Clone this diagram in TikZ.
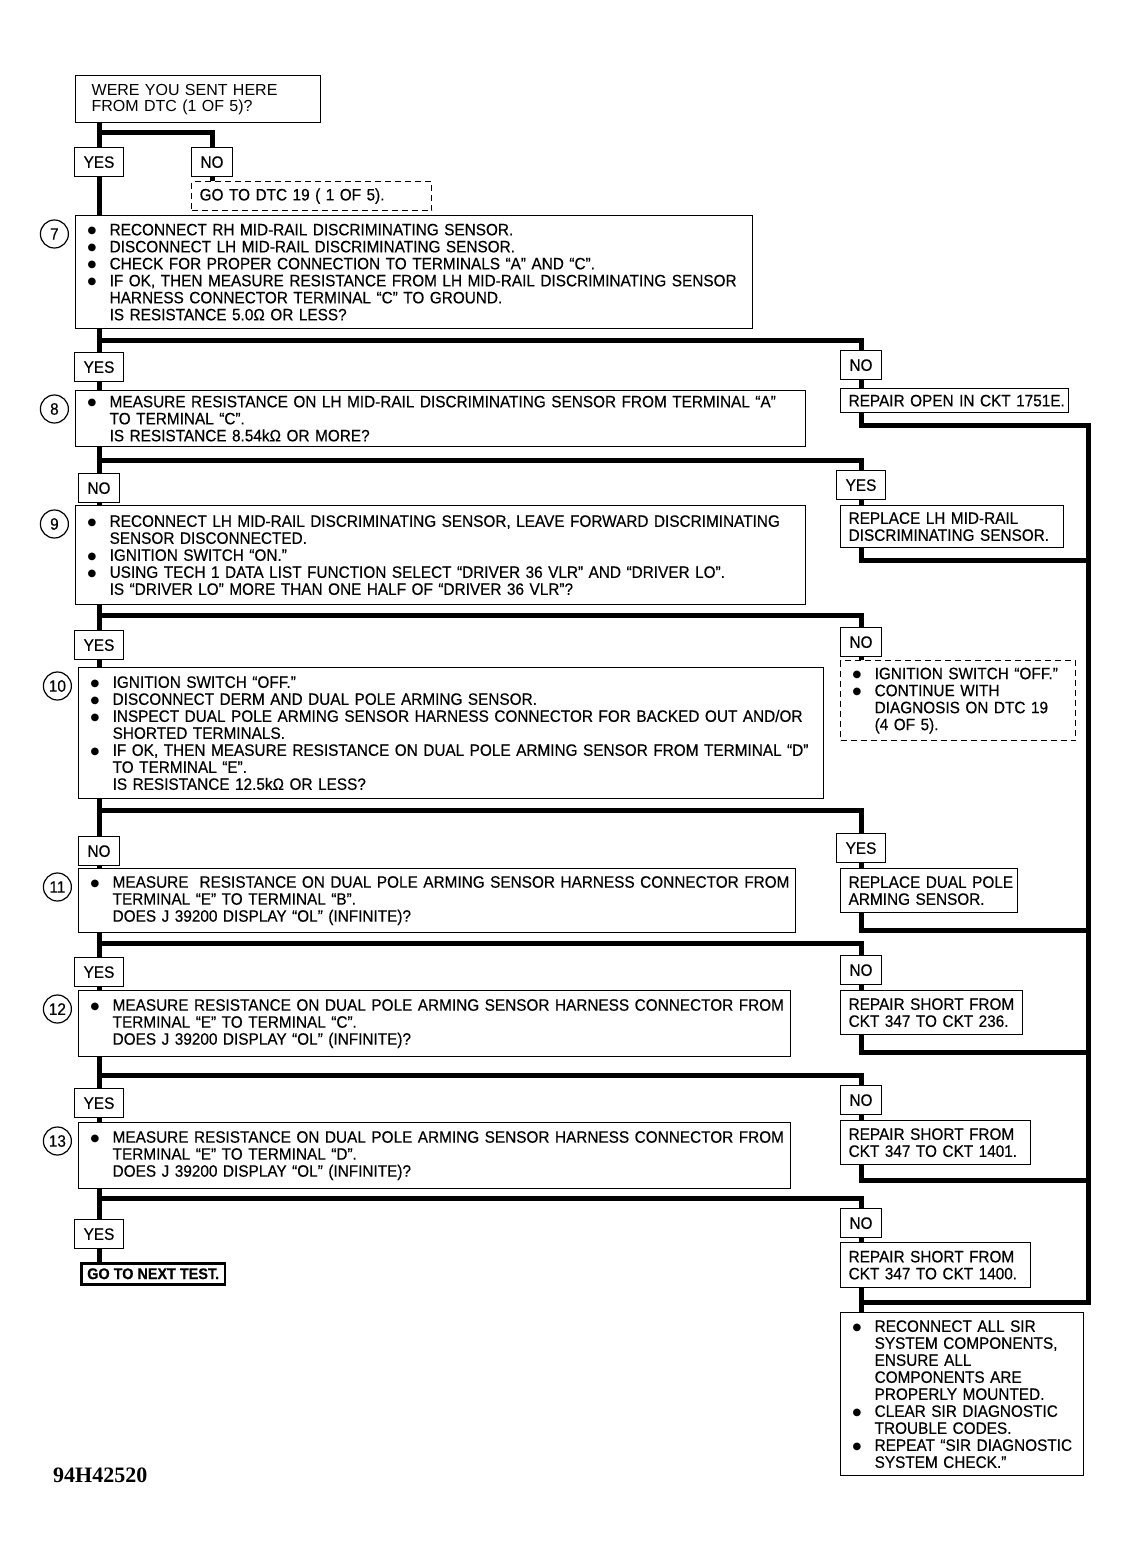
\documentclass[tikz,border=0pt]{standalone}
\usepackage{fontspec}
\setmainfont{Liberation Sans}[FakeStretch=0.93, FakeBold=0.4]
\newfontfamily\plainfont{Liberation Sans}
\newfontfamily\symfont{DejaVu Sans}
\newfontfamily\codefont{Liberation Serif}
\usetikzlibrary{positioning}

\newcommand{\bdot}{\raisebox{1.6pt}{\symfont\fontsize{10}{10}\selectfont ●}}
\newcommand{\bitem}[1]{\mbox{\makebox[22pt][l]{\bdot}#1}}
\newcommand{\bcont}[1]{\mbox{\hspace*{22pt}#1}}

\tikzset{
  txt/.style={font=\fontsize{16.5}{17}\selectfont},
  spine/.style={line width=5pt},
  testbox/.style={txt, draw, line width=1.3pt, anchor=north west, align=left, inner xsep=12pt, inner ysep=3pt},
  fixbox/.style={txt, draw, line width=1.3pt, anchor=north west, align=left, inner xsep=8pt, inner ysep=3pt},
  gobox/.style={fixbox, dash pattern=on 6pt off 4pt},
  ansbox/.style={txt, draw, line width=1.3pt, anchor=north, minimum height=29pt, inner xsep=9pt, inner ysep=0pt},
  num/.style={txt, draw, circle, line width=1.2pt, minimum size=28pt, inner sep=0pt, anchor=east},
}

\begin{document}
\begin{tikzpicture}[x=1pt, y=-1pt]
  \useasboundingbox (0,0) rectangle (1139,1557);

  % start question
  \node[fixbox, inner xsep=16pt, text width=213pt, minimum height=47pt,
        font=\plainfont\fontsize{16}{16}\selectfont] (b0) at (75,75)
    {WERE YOU SENT HERE\\FROM DTC (1 OF 5)?};
  \node[ansbox] (y0) at (99,147) {YES};
  \node[ansbox] (n0) at (212,147) {NO};
  \node[gobox, text width=224pt, minimum height=29pt] (g0) at (191,181) {GO TO DTC 19 ( 1 OF 5).};

  % tests on the left
  \node[testbox, text width=653pt, minimum height=113pt] (b7) at (75,215) {%
    \bitem{RECONNECT RH MID-RAIL DISCRIMINATING SENSOR.}\\
    \bitem{DISCONNECT LH MID-RAIL DISCRIMINATING SENSOR.}\\
    \bitem{CHECK FOR PROPER CONNECTION TO TERMINALS “A” AND “C”.}\\
    \bitem{IF OK, THEN MEASURE RESISTANCE FROM LH MID-RAIL DISCRIMINATING SENSOR}\\
    \bcont{HARNESS CONNECTOR TERMINAL “C” TO GROUND.}\\
    \bcont{IS RESISTANCE 5.0Ω OR LESS?}};
  \node[testbox, text width=706pt, minimum height=56pt] (b8) at (75,390) {%
    \bitem{MEASURE RESISTANCE ON LH MID-RAIL DISCRIMINATING SENSOR FROM TERMINAL “A”}\\
    \bcont{TO TERMINAL “C”.}\\
    \bcont{IS RESISTANCE 8.54kΩ OR MORE?}};
  \node[testbox, text width=706pt, minimum height=99pt] (b9) at (75,505) {%
    \bitem{RECONNECT LH MID-RAIL DISCRIMINATING SENSOR, LEAVE FORWARD DISCRIMINATING}\\
    \bcont{SENSOR DISCONNECTED.}\\
    \bitem{IGNITION SWITCH “ON.”}\\
    \bitem{USING TECH 1 DATA LIST FUNCTION SELECT “DRIVER 36 VLR” AND “DRIVER LO”.}\\
    \bcont{IS “DRIVER LO” MORE THAN ONE HALF OF “DRIVER 36 VLR”?}};
  \node[testbox, text width=721pt, minimum height=131pt] (b10) at (78,667) {%
    \bitem{IGNITION SWITCH “OFF.”}\\
    \bitem{DISCONNECT DERM AND DUAL POLE ARMING SENSOR.}\\
    \bitem{INSPECT DUAL POLE ARMING SENSOR HARNESS CONNECTOR FOR BACKED OUT AND/OR}\\
    \bcont{SHORTED TERMINALS.}\\
    \bitem{IF OK, THEN MEASURE RESISTANCE ON DUAL POLE ARMING SENSOR FROM TERMINAL “D”}\\
    \bcont{TO TERMINAL “E”.}\\
    \bcont{IS RESISTANCE 12.5kΩ OR LESS?}};
  \node[testbox, text width=693pt, minimum height=64pt] (b11) at (78,868) {%
    \bitem{MEASURE\ \ RESISTANCE ON DUAL POLE ARMING SENSOR HARNESS CONNECTOR FROM}\\
    \bcont{TERMINAL “E” TO TERMINAL “B”.}\\
    \bcont{DOES J 39200 DISPLAY “OL” (INFINITE)?}};
  \node[testbox, text width=688pt, minimum height=66pt] (b12) at (78,990) {%
    \bitem{MEASURE RESISTANCE ON DUAL POLE ARMING SENSOR HARNESS CONNECTOR FROM}\\
    \bcont{TERMINAL “E” TO TERMINAL “C”.}\\
    \bcont{DOES J 39200 DISPLAY “OL” (INFINITE)?}};
  \node[testbox, text width=688pt, minimum height=66pt] (b13) at (78,1122) {%
    \bitem{MEASURE RESISTANCE ON DUAL POLE ARMING SENSOR HARNESS CONNECTOR FROM}\\
    \bcont{TERMINAL “E” TO TERMINAL “D”.}\\
    \bcont{DOES J 39200 DISPLAY “OL” (INFINITE)?}};
  \node[fixbox, line width=2.5pt, inner xsep=6pt, inner ysep=1pt, minimum height=21pt,
        font=\fontsize{15.5}{16}\selectfont\bfseries] (bnext) at (80,1262) {GO TO NEXT TEST.};

  % step numbers
  \foreach \i in {7,8,...,13}
    \node[num] (c\i) at ([shift={(-6,19)}]b\i.north west) {\i};

  % answers
  \node[ansbox] (l7)  at (99,352)  {YES};  \node[ansbox] (r7)  at (861,350)  {NO};
  \node[ansbox] (l8)  at (99,473)  {NO};   \node[ansbox] (r8)  at (861,470)  {YES};
  \node[ansbox] (l9)  at (99,630)  {YES};  \node[ansbox] (r9)  at (861,627)  {NO};
  \node[ansbox] (l10) at (99,836)  {NO};   \node[ansbox] (r10) at (861,833)  {YES};
  \node[ansbox] (l11) at (99,957)  {YES};  \node[ansbox] (r11) at (861,955)  {NO};
  \node[ansbox] (l12) at (99,1088) {YES};  \node[ansbox] (r12) at (861,1085) {NO};
  \node[ansbox] (l13) at (99,1219) {YES};  \node[ansbox] (r13) at (861,1208) {NO};

  % repairs on the right
  \node[fixbox, text width=212pt, minimum height=24pt] (f7) at (840,388) {\mbox{REPAIR OPEN IN CKT 1751E.}};
  \node[fixbox, text width=207pt, minimum height=42pt] (f8) at (840,505)
    {\mbox{REPLACE LH MID-RAIL}\\\mbox{DISCRIMINATING SENSOR.}};
  \node[gobox, inner xsep=12pt, text width=211pt, minimum height=80pt] (f9) at (840,660) {%
    \bitem{IGNITION SWITCH “OFF.”}\\
    \bitem{CONTINUE WITH}\\
    \bcont{DIAGNOSIS ON DTC 19}\\
    \bcont{(4 OF 5).}};
  \node[fixbox, text width=161pt, minimum height=44pt] (f10) at (840,868)
    {\mbox{REPLACE DUAL POLE}\\\mbox{ARMING SENSOR.}};
  \node[fixbox, text width=166pt, minimum height=44pt] (f11) at (840,990)
    {\mbox{REPAIR SHORT FROM}\\\mbox{CKT 347 TO CKT 236.}};
  \node[fixbox, text width=174pt, minimum height=44pt] (f12) at (840,1120)
    {\mbox{REPAIR SHORT FROM}\\\mbox{CKT 347 TO CKT 1401.}};
  \node[fixbox, text width=174pt, minimum height=45pt] (f13) at (840,1242)
    {\mbox{REPAIR SHORT FROM}\\\mbox{CKT 347 TO CKT 1400.}};
  \node[fixbox, inner xsep=12pt, text width=219pt, minimum height=163pt] (final) at (840,1312) {%
    \bitem{RECONNECT ALL SIR}\\
    \bcont{SYSTEM COMPONENTS,}\\
    \bcont{ENSURE ALL}\\
    \bcont{COMPONENTS ARE}\\
    \bcont{PROPERLY MOUNTED.}\\
    \bitem{CLEAR SIR DIAGNOSTIC}\\
    \bcont{TROUBLE CODES.}\\
    \bitem{REPEAT “SIR DIAGNOSTIC}\\
    \bcont{SYSTEM CHECK.”}};

  \node[anchor=west, inner sep=0pt, font=\codefont\bfseries\fontsize{22}{24}\selectfont] (code) at (53,1475) {94H42520};

  % branch points
  \coordinate (j0) at (99,133);
  \coordinate (j7) at (99,340);   \coordinate (j8) at (99,460);
  \coordinate (j9) at (99,615);   \coordinate (j10) at (99,810);
  \coordinate (j11) at (99,943);  \coordinate (j12) at (99,1075);
  \coordinate (j13) at (99,1198);
  \coordinate (k7) at (861,425);  \coordinate (k8) at (861,560);
  \coordinate (k10) at (861,930); \coordinate (k11) at (861,1052);
  \coordinate (k12) at (861,1180); \coordinate (k13) at (861,1302);
  \coordinate (rail) at (1088,425);

  % connectors
  \draw[spine] (b0.south -| y0) -- (y0.north);
  \draw[spine] (j0) -| (n0.north);
  \draw[spine] (y0.south) -- (b7.north -| y0);
  \draw[spine] (n0.south) -- (g0.north -| n0);
  \foreach \i/\n in {7/8, 8/9, 9/10, 10/11, 11/12, 12/13, 13/next} {
    \draw[spine] (b\i.south -| l\i) -- (l\i.north);
    \draw[spine] (j\i) -| (r\i.north);
    \draw[spine] (l\i.south) -- (b\n.north -| l\i);
    \draw[spine] (r\i.south) -- (f\i.north -| r\i);
  }
  \draw[spine] (f7.south -| r7) -- (k7) -- (k7 -| rail) -- (k13 -| rail) -- (k13) -- (final.north -| k13);
  \foreach \i in {8,10,11,12,13}
    \draw[spine] (f\i.south -| r\i) -- (k\i) -- (k\i -| rail);
\end{tikzpicture}
\end{document}
